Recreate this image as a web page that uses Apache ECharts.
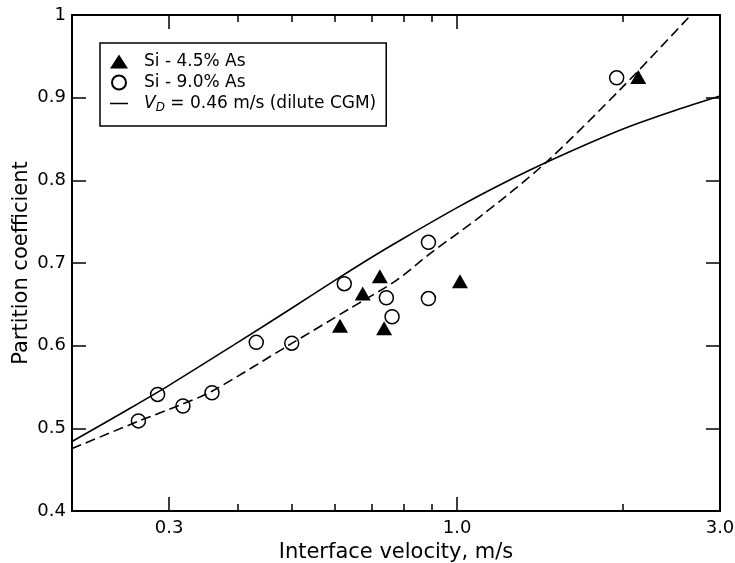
<!DOCTYPE html>
<html>
<head>
<meta charset="utf-8">
<script src="https://cdn.jsdelivr.net/npm/echarts@6/dist/echarts.min.js"></script>
<style>
  html, body { margin: 0; padding: 0; background: #fff; }
  #chart { width: 735px; height: 563px; }
</style>
</head>
<body>
<div id="chart"></div>
<script>
// tick positions on the log axis
const xMajorTicks = [0.3, 1.0];
const xMinorTicks = [0.4, 0.5, 0.6, 0.7, 0.8, 0.9, 2.0];
const xLabels = [0.3, 1.0, 3.0];

// Si - 4.5% As (filled triangles)
const si45X = [0.613, 0.674, 0.724, 0.737, 1.012, 2.132];
const si45Y = [0.624, 0.663, 0.684, 0.621, 0.678, 0.925];

// Si - 9.0% As (open circles)
const si90X = [0.264, 0.286, 0.318, 0.359, 0.432, 0.501, 0.624, 0.744, 0.762, 0.887, 0.887, 1.948];
const si90Y = [0.509, 0.541, 0.527, 0.543, 0.604, 0.603, 0.675, 0.658, 0.635, 0.657, 0.725, 0.924];

// solid curve, V_D = 0.46 m/s (dilute CGM)
const cgmX = [0.2, 0.25, 0.3, 0.4, 0.5, 0.6, 0.7, 0.8, 1.0, 1.2, 1.5, 2.0, 2.5, 3.0];
const cgmY = [0.484, 0.521, 0.552, 0.604, 0.645, 0.679, 0.707, 0.730, 0.767, 0.795, 0.826, 0.862, 0.885, 0.902];

// dashed curve
const fitX = [0.2, 0.264, 0.317, 0.359, 0.501, 0.639, 0.777, 0.893, 1.1, 1.444, 2.0, 2.656];
const fitY = [0.4755, 0.5086, 0.5292, 0.5449, 0.6027, 0.645, 0.6793, 0.7114, 0.7559, 0.8206, 0.9133, 1.0];

const zip = (xs, ys) => xs.map((x, i) => [x, ys[i]]);

const font = "DejaVu Sans";
const black = "#000";

const baseX = (pos, ticks, len, withLabels) => ({
  type: "log",
  logBase: 10,
  min: 0.2,
  max: 3,
  position: pos,
  gridIndex: 0,
  axisLine: { show: true, onZero: false, lineStyle: { color: black, width: 2 } },
  axisTick: {
    show: true,
    inside: true,
    length: len,
    customValues: ticks,
    lineStyle: { color: black, width: 1.5 },
  },
  axisLabel: withLabels
    ? {
        show: true,
        customValues: xLabels,
        formatter: (v) => Number(v).toFixed(1),
        color: black,
        fontFamily: font,
        fontSize: 18,
        margin: 8,
      }
    : { show: false },
  splitLine: { show: false },
});

const chart = echarts.init(document.getElementById("chart"));

const xMain = baseX("bottom", xMajorTicks, 14, true);
xMain.name = "Interface velocity, m/s";
xMain.nameLocation = "middle";
xMain.nameGap = 30;
xMain.nameTextStyle = { color: black, fontFamily: font, fontSize: 21 };

chart.setOption({
  animation: false,
  backgroundColor: "#fff",
  grid: { left: 72, right: 15, top: 15, bottom: 52, outerBoundsMode: "none", containLabel: false },
  xAxis: [
    xMain,
    baseX("bottom", xMinorTicks, 7, false),
    baseX("top", xMajorTicks, 14, false),
    baseX("top", xMinorTicks, 7, false),
  ],
  yAxis: [
    {
      type: "value",
      min: 0.4,
      max: 1,
      interval: 0.1,
      position: "left",
      name: "Partition coefficient",
      nameLocation: "middle",
      nameGap: 40,
      nameMoveOverlap: false,
      nameTextStyle: { color: black, fontFamily: font, fontSize: 21 },
      axisLine: { show: true, lineStyle: { color: black, width: 2 } },
      axisTick: { show: true, inside: true, length: 14, lineStyle: { color: black, width: 1.5 } },
      axisLabel: { color: black, fontFamily: font, fontSize: 18, margin: 6 },
      splitLine: { show: false },
    },
    {
      type: "value",
      min: 0.4,
      max: 1,
      interval: 0.1,
      position: "right",
      axisLine: { show: true, lineStyle: { color: black, width: 2 } },
      axisTick: { show: true, inside: true, length: 14, lineStyle: { color: black, width: 1.5 } },
      axisLabel: { show: false },
      splitLine: { show: false },
    },
  ],
  legend: {
    orient: "vertical",
    left: 100,
    top: 43,
    padding: [8, 10, 12, 10],
    itemGap: 0,
    itemWidth: 18,
    itemHeight: 14,
    borderColor: black,
    borderWidth: 1.5,
    data: [
      "Si - 4.5% As",
      "Si - 9.0% As",
      { name: "cgm", icon: "path://M0,0L18,0L18,1.5L0,1.5Z", itemStyle: { color: black } },
    ],
    formatter: (name) =>
      name === "cgm" ? "{v|V}{d|D}{t| = 0.46 m/s (dilute CGM)}" : name,
    textStyle: {
      color: black,
      fontFamily: font,
      fontSize: 17,
      lineHeight: 21,
      padding: [0, 0, 0, 11],
      rich: {
        v: { fontFamily: font, fontSize: 17, fontStyle: "italic", lineHeight: 21, color: black },
        d: { fontFamily: font, fontSize: 12, fontStyle: "italic", lineHeight: 21, verticalAlign: "bottom", padding: [8, 0, 0, 0], color: black },
        t: { fontFamily: font, fontSize: 17, lineHeight: 21, color: black },
      },
    },
  },
  series: [
    {
      name: "cgm",
      type: "line",
      data: zip(cgmX, cgmY),
      smooth: 0.3,
      symbol: "none",
      lineStyle: { color: black, width: 1.6 },
      itemStyle: { color: black },
      z: 2,
    },
    {
      name: "fit",
      type: "line",
      data: zip(fitX, fitY),
      smooth: 0.3,
      symbol: "none",
      lineStyle: { color: black, width: 1.6, type: [10, 5] },
      itemStyle: { color: black },
      z: 2,
    },
    {
      name: "Si - 4.5% As",
      type: "scatter",
      data: zip(si45X, si45Y),
      symbol: "triangle",
      symbolSize: [16, 14],
      itemStyle: { color: black, opacity: 1 },
      z: 3,
    },
    {
      name: "Si - 9.0% As",
      type: "scatter",
      data: zip(si90X, si90Y),
      symbol: "circle",
      symbolSize: 14,
      itemStyle: { color: "rgba(0,0,0,0)", borderColor: black, borderWidth: 1.5, opacity: 1 },
      z: 3,
    },
  ],
});

window.addEventListener("resize", () => {
  chart.resize();
});
</script>
</body>
</html>
